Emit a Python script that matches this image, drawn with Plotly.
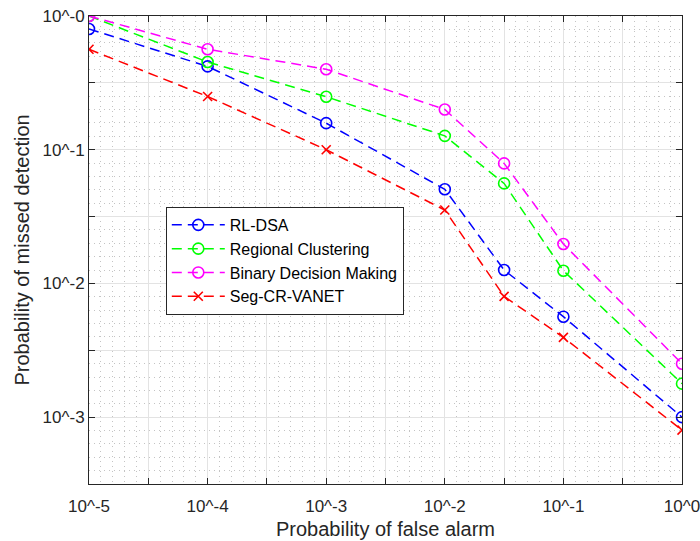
import plotly.graph_objects as go

# Data
pfa = [1e-5, 1e-4, 1e-3, 1e-2, 10**-1.5, 1e-1, 1e0]
rl_dsa = [0.80, 0.42, 0.158, 0.0506, 0.0126, 0.00564, 0.00100]
regional = [1.00, 0.453, 0.249, 0.127, 0.056, 0.01245, 0.00178]
binary = [1.00, 0.564, 0.40, 0.20, 0.079, 0.0197, 0.00251]
seg_cr = [0.564, 0.25, 0.10, 0.0354, 0.0080, 0.00395, 0.00080]

names = ["RL-DSA", "Regional Clustering", "Binary Decision Making", "Seg-CR-VANET"]
colors = ["#0000ff", "#00ff00", "#ff00ff", "#ff0000"]
symbols = ["circle-open", "circle-open", "circle-open", "x-thin-open"]

x_tick_exps = [-5, -4.5, -4, -3.5, -3, -2.5, -2, -1.5, -1, -0.5, 0]
x_tick_text = ["10^-5", "", "10^-4", "", "10^-3", "", "10^-2", "", "10^-1", "", "10^0"]
y_tick_exps = [-3.5, -3, -2.5, -2, -1.5, -1, -0.5, 0]
y_tick_text = ["", "10^-3", "", "10^-2", "", "10^-1", "", "10^-0"]

FONT = "Liberation Sans, Arial, sans-serif"

fig = go.Figure()
for ys, name, col, sym in zip([rl_dsa, regional, binary, seg_cr], names, colors, symbols):
    fig.add_trace(go.Scatter(
        x=pfa, y=ys, name=name, mode="lines+markers",
        line=dict(color=col, width=1.5, dash="10px,6px"),
        marker=dict(symbol=sym, size=11 if sym == "circle-open" else 9,
                    color=col, line=dict(color=col, width=1.6)),
    ))

def minor_vals(lo, hi):
    vals = []
    k = int(round(lo * 10))
    while k <= int(round(hi * 10)):
        if k % 5 != 0:
            vals.append(10 ** (k / 10))
        k += 1
    return vals

axis_common = dict(
    type="log", automargin=False, ticklabeloverflow="allow",
    showline=True, linecolor="#262626", linewidth=1, mirror="allticks",
    ticks="inside", ticklen=6, tickcolor="#262626", tickwidth=1,
    showgrid=True, gridcolor="#e3e3e3", gridwidth=1,
    zeroline=False,
    tickfont=dict(family=FONT, size=17, color="#262626"),
    title_font=dict(family=FONT, size=20, color="#262626"),
)

fig.update_xaxes(
    **axis_common,
    range=[-5, 0],
    tickmode="array", tickvals=[10 ** e for e in x_tick_exps], ticktext=x_tick_text,
    ticklabelstandoff=7,
    minor=dict(tickmode="array", tickvals=minor_vals(-5, 0), showgrid=True,
               gridcolor="#c4c4c4", griddash="1px,4px", gridwidth=1, ticks=""),
    title_text="Probability of false alarm", title_standoff=6,
)
fig.update_yaxes(
    **axis_common,
    range=[-3.5, 0],
    tickmode="array", tickvals=[10 ** e for e in y_tick_exps], ticktext=y_tick_text,
    minor=dict(tickmode="array", tickvals=minor_vals(-3.5, 0), showgrid=True,
               gridcolor="#c4c4c4", griddash="1px,4px", gridwidth=1, ticks=""),
    title_text="Probability of missed detection", title_standoff=7,
)

fig.update_layout(
    width=700, height=541,
    margin=dict(l=89, r=18, t=16, b=57),
    plot_bgcolor="white", paper_bgcolor="white",
    font=dict(family=FONT, color="#262626"),
    legend=dict(
        x=0.1295, y=0.592, xanchor="left", yanchor="top",
        bgcolor="white", bordercolor="#262626", borderwidth=1,
        font=dict(family=FONT, size=16, color="black"),
        tracegroupgap=0, itemwidth=53,
    ),
)

fig.write_html("out.html")
